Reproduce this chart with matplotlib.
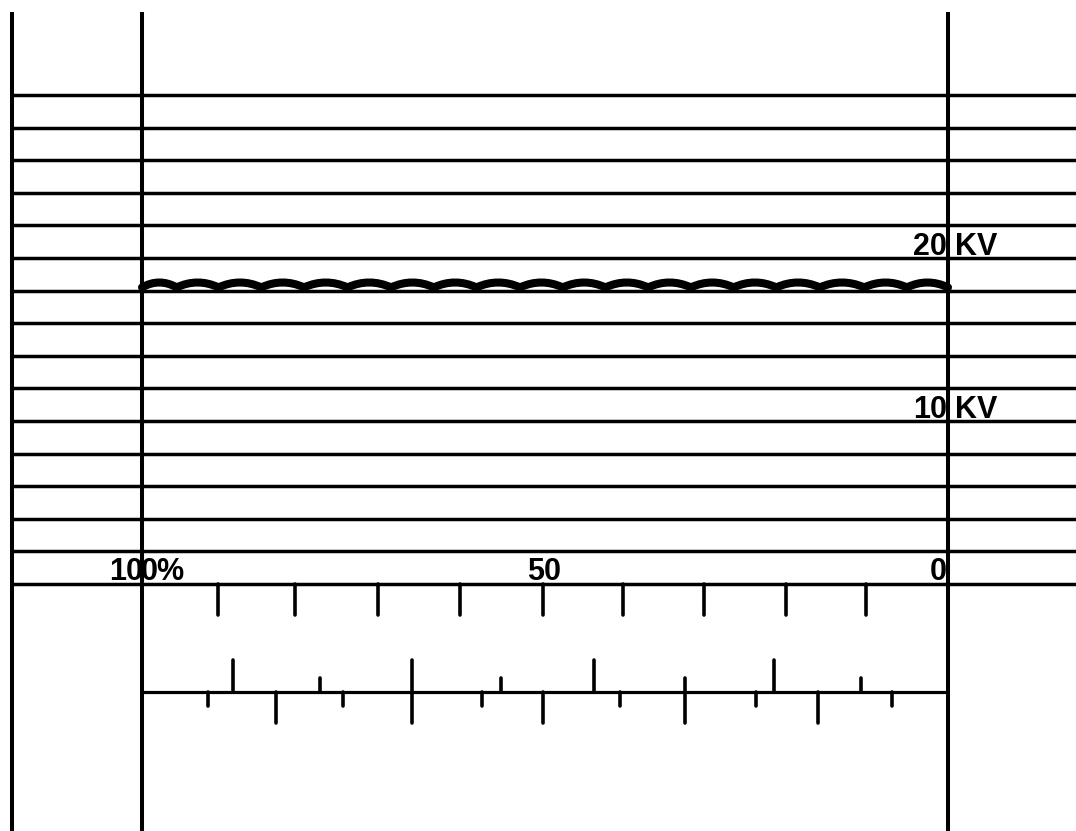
import matplotlib
matplotlib.use("Agg")
import matplotlib.pyplot as plt
from matplotlib.path import Path
from matplotlib.patches import PathPatch

plt.rcParams["font.family"] = ["Liberation Sans", "DejaVu Sans"]

# horizontal chart lines, KV (one every 2 KV)
grid_kv = [0, 2, 4, 6, 8, 10, 12, 14, 16, 18, 20, 22, 24, 26, 28, 30]
kv_labels = [(20, "20"), (10, "10")]

# vertical frame lines, percent position (100 % left, 0 right)
frame_pct = [116.1, 100, 0]

# ripple on the output voltage: trough positions (percent) and levels (KV)
ripple_troughs = [100, 95.7, 90.5, 85.2, 79.9, 74.5, 69.1, 63.8, 58.5, 53.1,
                  47.8, 42.5, 37.2, 31.9, 26.6, 21.3, 15.9, 10.4, 5.1, 0]
ripple_low = 18.2
ripple_high = 18.5

# upper scale ticks (hang from the 0 KV line)
scale1_ticks = [90.6, 81.0, 70.7, 60.5, 50.2, 40.3, 30.3, 20.1, 10.2]

# lower scale: baseline and four tick families
scale2_base = -6.63
up_long = [88.7, 66.5, 43.9, 21.6]
up_short = [77.9, 55.5, 32.6, 10.8]
down_long = [83.4, 66.5, 50.2, 32.6, 16.1]
down_short = [91.8, 75.1, 57.8, 40.7, 23.8, 6.9]

fig = plt.figure(figsize=(10.76, 8.31), dpi=100)
ax = fig.add_axes([0, 0, 1, 1])
ax.set_xlim(117.62, -15.88)
ax.set_ylim(-15.15, 35.83)
ax.axis("off")

lw_h = 2.5
lw_v = 2.9
ax.hlines(grid_kv, 116.1, -15.88, color="black", lw=lw_h)
ax.vlines(frame_pct, -16, 35.1, color="black", lw=lw_v)

# ripple drawn as a chain of arcs between troughs
ctrl = 2 * ripple_high - ripple_low
verts = [(ripple_troughs[0], ripple_low)]
codes = [Path.MOVETO]
for a, b in zip(ripple_troughs[:-1], ripple_troughs[1:]):
    verts += [((a + b) / 2, ctrl), (b, ripple_low)]
    codes += [Path.CURVE3, Path.CURVE3]
ax.add_patch(PathPatch(Path(verts, codes), fill=False, ec="black", lw=5.8,
                       capstyle="round", joinstyle="round"))

txt = dict(fontsize=22, fontweight="bold", color="black", va="baseline")
for kv, s in kv_labels:
    ax.text(0.1, kv + 0.18, s, ha="right", **txt)
    ax.text(-0.85, kv + 0.18, "KV", ha="left", **txt)

ax.text(99.9, 0.25, "10", ha="right", **txt)
ax.text(100.1, 0.25, "0%", ha="left", **txt)
ax.text(50.1, 0.25, "50", ha="center", **txt)
ax.text(0.1, 0.25, "0", ha="right", **txt)

tick_kw = dict(color="black", lw=2.6, capstyle="round")
ax.vlines(scale1_ticks, -1.9, 0, **tick_kw)

ax.hlines(scale2_base, 100, 0, color="black", lw=2.3)
ax.vlines(up_long, scale2_base, -4.66, **tick_kw)
ax.vlines(up_short, scale2_base, -5.74, **tick_kw)
ax.vlines(down_long, -8.53, scale2_base, **tick_kw)
ax.vlines(down_short, -7.48, scale2_base, **tick_kw)

fig.savefig("out.png", dpi=100, facecolor="white")
plt.close(fig)
